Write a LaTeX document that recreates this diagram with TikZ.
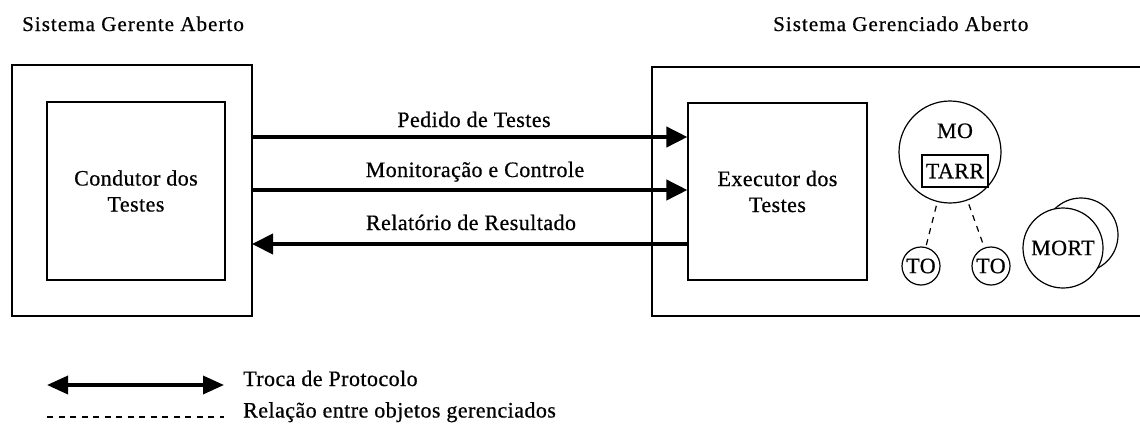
\documentclass[tikz,border=0pt]{standalone}
\usepackage{fontspec}
\setmainfont{Liberation Serif}
\newfontfamily\lblfont[LetterSpace=2,FakeBold=0.6]{Liberation Serif}
\newfontfamily\ttlfont[LetterSpace=5,FakeBold=0.6]{Liberation Serif}
\usetikzlibrary{arrows.meta}
\begin{document}
\begin{tikzpicture}[x=1pt,y=-1pt,
  box/.style={draw,line width=1.2pt,inner sep=0pt},
  lbl/.style={font=\lblfont\fontsize{22}{26}\selectfont,inner sep=0pt},
  ttl/.style={font=\ttlfont\fontsize{21}{24}\selectfont,inner sep=0pt,anchor=base west},
  proto/.style={line width=4pt,-{Triangle[length=21pt,width=20pt]}},
  rel/.style={line width=1.2pt,dash pattern=on 6pt off 5.5pt}]
\useasboundingbox (0,0) rectangle (1140,423);
% titles
\node[ttl] (t1) at (22,31) {Sistema Gerente Aberto};
\node[ttl] (t2) at (773,31) {Sistema Gerenciado Aberto};
% outer boxes
\draw[box] (12,65) rectangle (252,316);
\draw[box] (652,67) rectangle (1141,316);
% inner boxes
\node[box,minimum width=178pt,minimum height=178pt,align=center,lbl] (cond) at (136,191) {Condutor dos\\Testes};
\node[box,minimum width=179pt,minimum height=177pt,align=center,lbl] (exec) at (777.5,191.5) {Executor dos\\Testes};
% arrow start points on the outer box
\coordinate (l1) at (252,137);
\coordinate (l2) at (252,190);
\coordinate (l3) at (252,244);
\draw[proto] (l1) -- (exec.west |- l1);
\draw[proto] (l2) -- (exec.west |- l2);
\draw[proto] (exec.west |- l3) -- (l3);
\node[lbl,anchor=base] (p1) at (474,127) {Pedido de Testes};
\node[lbl,anchor=base] (p2) at (475,177) {Monitoração e Controle};
\node[lbl,anchor=base] (p3) at (471,230) {Relatório de Resultado};
% MO
\node[draw,circle,line width=1.2pt,minimum size=102pt,inner sep=0pt] (mo) at (950,152) {};
\node[lbl,anchor=base] (motxt) at (955,138) {MO};
\node[draw,line width=1.2pt,minimum width=66pt,minimum height=32pt,inner sep=0pt,lbl] (tarr) at (955,171) {TARR};
\node[draw,circle,line width=1.2pt,minimum size=38pt,inner sep=0pt,lbl] (to1) at (921,266) {TO};
\node[draw,circle,line width=1.2pt,minimum size=38pt,inner sep=0pt,lbl] (to2) at (991,266) {TO};
\draw[rel,shorten <=4pt] (mo) -- (to1);
\draw[rel,shorten <=4pt] (mo) -- (to2);
% MORT
\node[draw,circle,line width=1.2pt,fill=white,minimum size=74pt,inner sep=0pt] (mortb) at (1081,235) {};
\node[draw,circle,line width=1.2pt,fill=white,minimum size=80pt,inner sep=0pt,lbl] (mort) at (1063,248) {MORT};
% legend
\coordinate (a1) at (47,385);
\coordinate (a2) at (224,385);
\draw[line width=3.5pt,{Triangle[length=21pt,width=18pt]}-{Triangle[length=21pt,width=18pt]}] (a1) -- (a2);
\node[lbl,anchor=base west] (lg1) at (243,386) {Troca de Protocolo};
\coordinate (d1) at (47,417);
\coordinate (d2) at (224,417);
\draw[rel] (d1) -- (d2);
\node[lbl,anchor=base west] (lg2) at (243,417.5) {Relação entre objetos gerenciados};
\end{tikzpicture}
\end{document}
